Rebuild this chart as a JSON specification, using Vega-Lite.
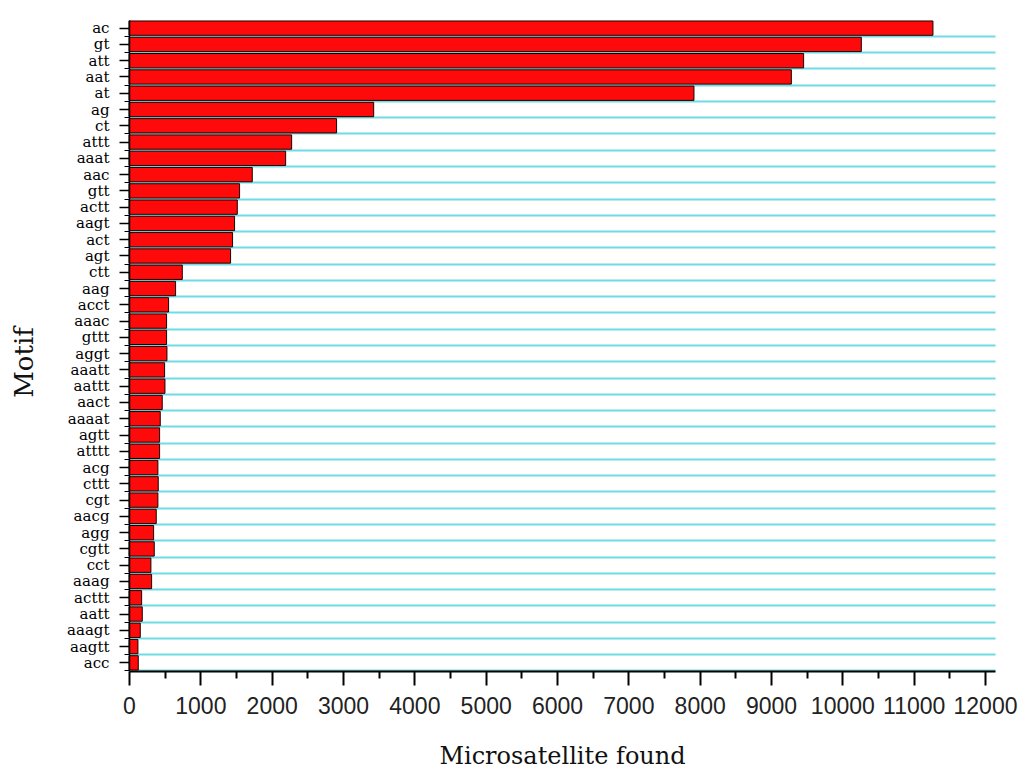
{
  "$schema": "https://vega.github.io/schema/vega-lite/v6.json",
  "width": 866,
  "height": 651,
  "autosize": "none",
  "padding": {"left": 129, "top": 20, "right": 29, "bottom": 106},
  "background": "white",
  "config": {"view": {"stroke": null}},
  "data": {
    "values": [
      {"motif": "ac", "count": 11270},
      {"motif": "gt", "count": 10266},
      {"motif": "att", "count": 9457},
      {"motif": "aat", "count": 9285},
      {"motif": "at", "count": 7920},
      {"motif": "ag", "count": 3430},
      {"motif": "ct", "count": 2910},
      {"motif": "attt", "count": 2280},
      {"motif": "aaat", "count": 2196},
      {"motif": "aac", "count": 1728},
      {"motif": "gtt", "count": 1550},
      {"motif": "actt", "count": 1518},
      {"motif": "aagt", "count": 1480},
      {"motif": "act", "count": 1452},
      {"motif": "agt", "count": 1424},
      {"motif": "ctt", "count": 747},
      {"motif": "aag", "count": 653},
      {"motif": "acct", "count": 555},
      {"motif": "aaac", "count": 527},
      {"motif": "gttt", "count": 527},
      {"motif": "aggt", "count": 532},
      {"motif": "aaatt", "count": 499},
      {"motif": "aattt", "count": 504},
      {"motif": "aact", "count": 466},
      {"motif": "aaaat", "count": 438},
      {"motif": "agtt", "count": 429},
      {"motif": "atttt", "count": 429},
      {"motif": "acg", "count": 405},
      {"motif": "cttt", "count": 410},
      {"motif": "cgt", "count": 405},
      {"motif": "aacg", "count": 382},
      {"motif": "agg", "count": 345},
      {"motif": "cgtt", "count": 354},
      {"motif": "cct", "count": 307},
      {"motif": "aaag", "count": 317},
      {"motif": "acttt", "count": 177},
      {"motif": "aatt", "count": 186},
      {"motif": "aaagt", "count": 158},
      {"motif": "aagtt", "count": 125},
      {"motif": "acc", "count": 130}
    ]
  },
  "resolve": {"axis": {"x": "independent", "y": "independent"}},
  "layer": [
    {
      "mark": {"type": "bar", "opacity": 0},
      "encoding": {
        "y": {
          "field": "motif", "type": "nominal", "sort": null,
          "scale": {"paddingInner": 0, "paddingOuter": 0},
          "axis": {
            "orient": "left", "grid": true, "gridColor": "#6fdbe3", "gridWidth": 2, "gridOpacity": 1,
            "bandPosition": 1, "labels": false, "ticks": true, "tickSize": 5, "tickColor": "#000", "tickWidth": 1,
            "domain": false, "title": null, "zindex": 0
          }
        },
        "x": {
          "field": "count", "type": "quantitative",
          "scale": {"domain": [0, 12140], "nice": false, "zero": true},
          "axis": {
            "orient": "bottom", "values": [500, 1500, 2500, 3500, 4500, 5500, 6500, 7500, 8500, 9500, 10500, 11500],
            "labels": false, "grid": false, "domain": false, "tickSize": 7, "tickWidth": 2, "tickColor": "#000",
            "title": null, "zindex": 1
          }
        }
      }
    },
    {
      "mark": {"type": "bar", "color": "#ff0a0a", "stroke": "#1a0000", "strokeWidth": 1, "height": {"band": 0.88}},
      "encoding": {
        "y": {
          "field": "motif", "type": "nominal", "sort": null,
          "axis": {
            "orient": "left", "grid": false, "domain": true, "domainColor": "#000", "domainWidth": 1.5,
            "ticks": true, "tickSize": 10, "tickColor": "#000", "tickWidth": 1.5,
            "labelFont": "DejaVu Serif", "labelFontSize": 15, "labelColor": "#000", "labelPadding": 10,
            "title": "Motif", "titleFont": "DejaVu Serif", "titleFontSize": 26, "titleFontWeight": "normal",
            "titleColor": "#111", "titleX": -92, "titleY": 342, "zindex": 1
          }
        },
        "x": {
          "field": "count", "type": "quantitative",
          "axis": {
            "orient": "bottom", "values": [0, 1000, 2000, 3000, 4000, 5000, 6000, 7000, 8000, 9000, 10000, 11000, 12000],
            "format": "d", "grid": false, "domain": true, "domainColor": "#000", "domainWidth": 2,
            "ticks": true, "tickSize": 14, "tickWidth": 2, "tickColor": "#000",
            "labelFont": "Liberation Sans", "labelFontSize": 23, "labelColor": "#222",
            "labelBaseline": "alphabetic", "labelPadding": 28, "labelFlush": false, "labelOverlap": false,
            "title": "Microsatellite found", "titleFont": "DejaVu Serif", "titleFontSize": 24,
            "titleFontWeight": "normal", "titleColor": "#111", "titleBaseline": "alphabetic", "titleY": 92,
            "zindex": 1
          }
        }
      }
    }
  ]
}
